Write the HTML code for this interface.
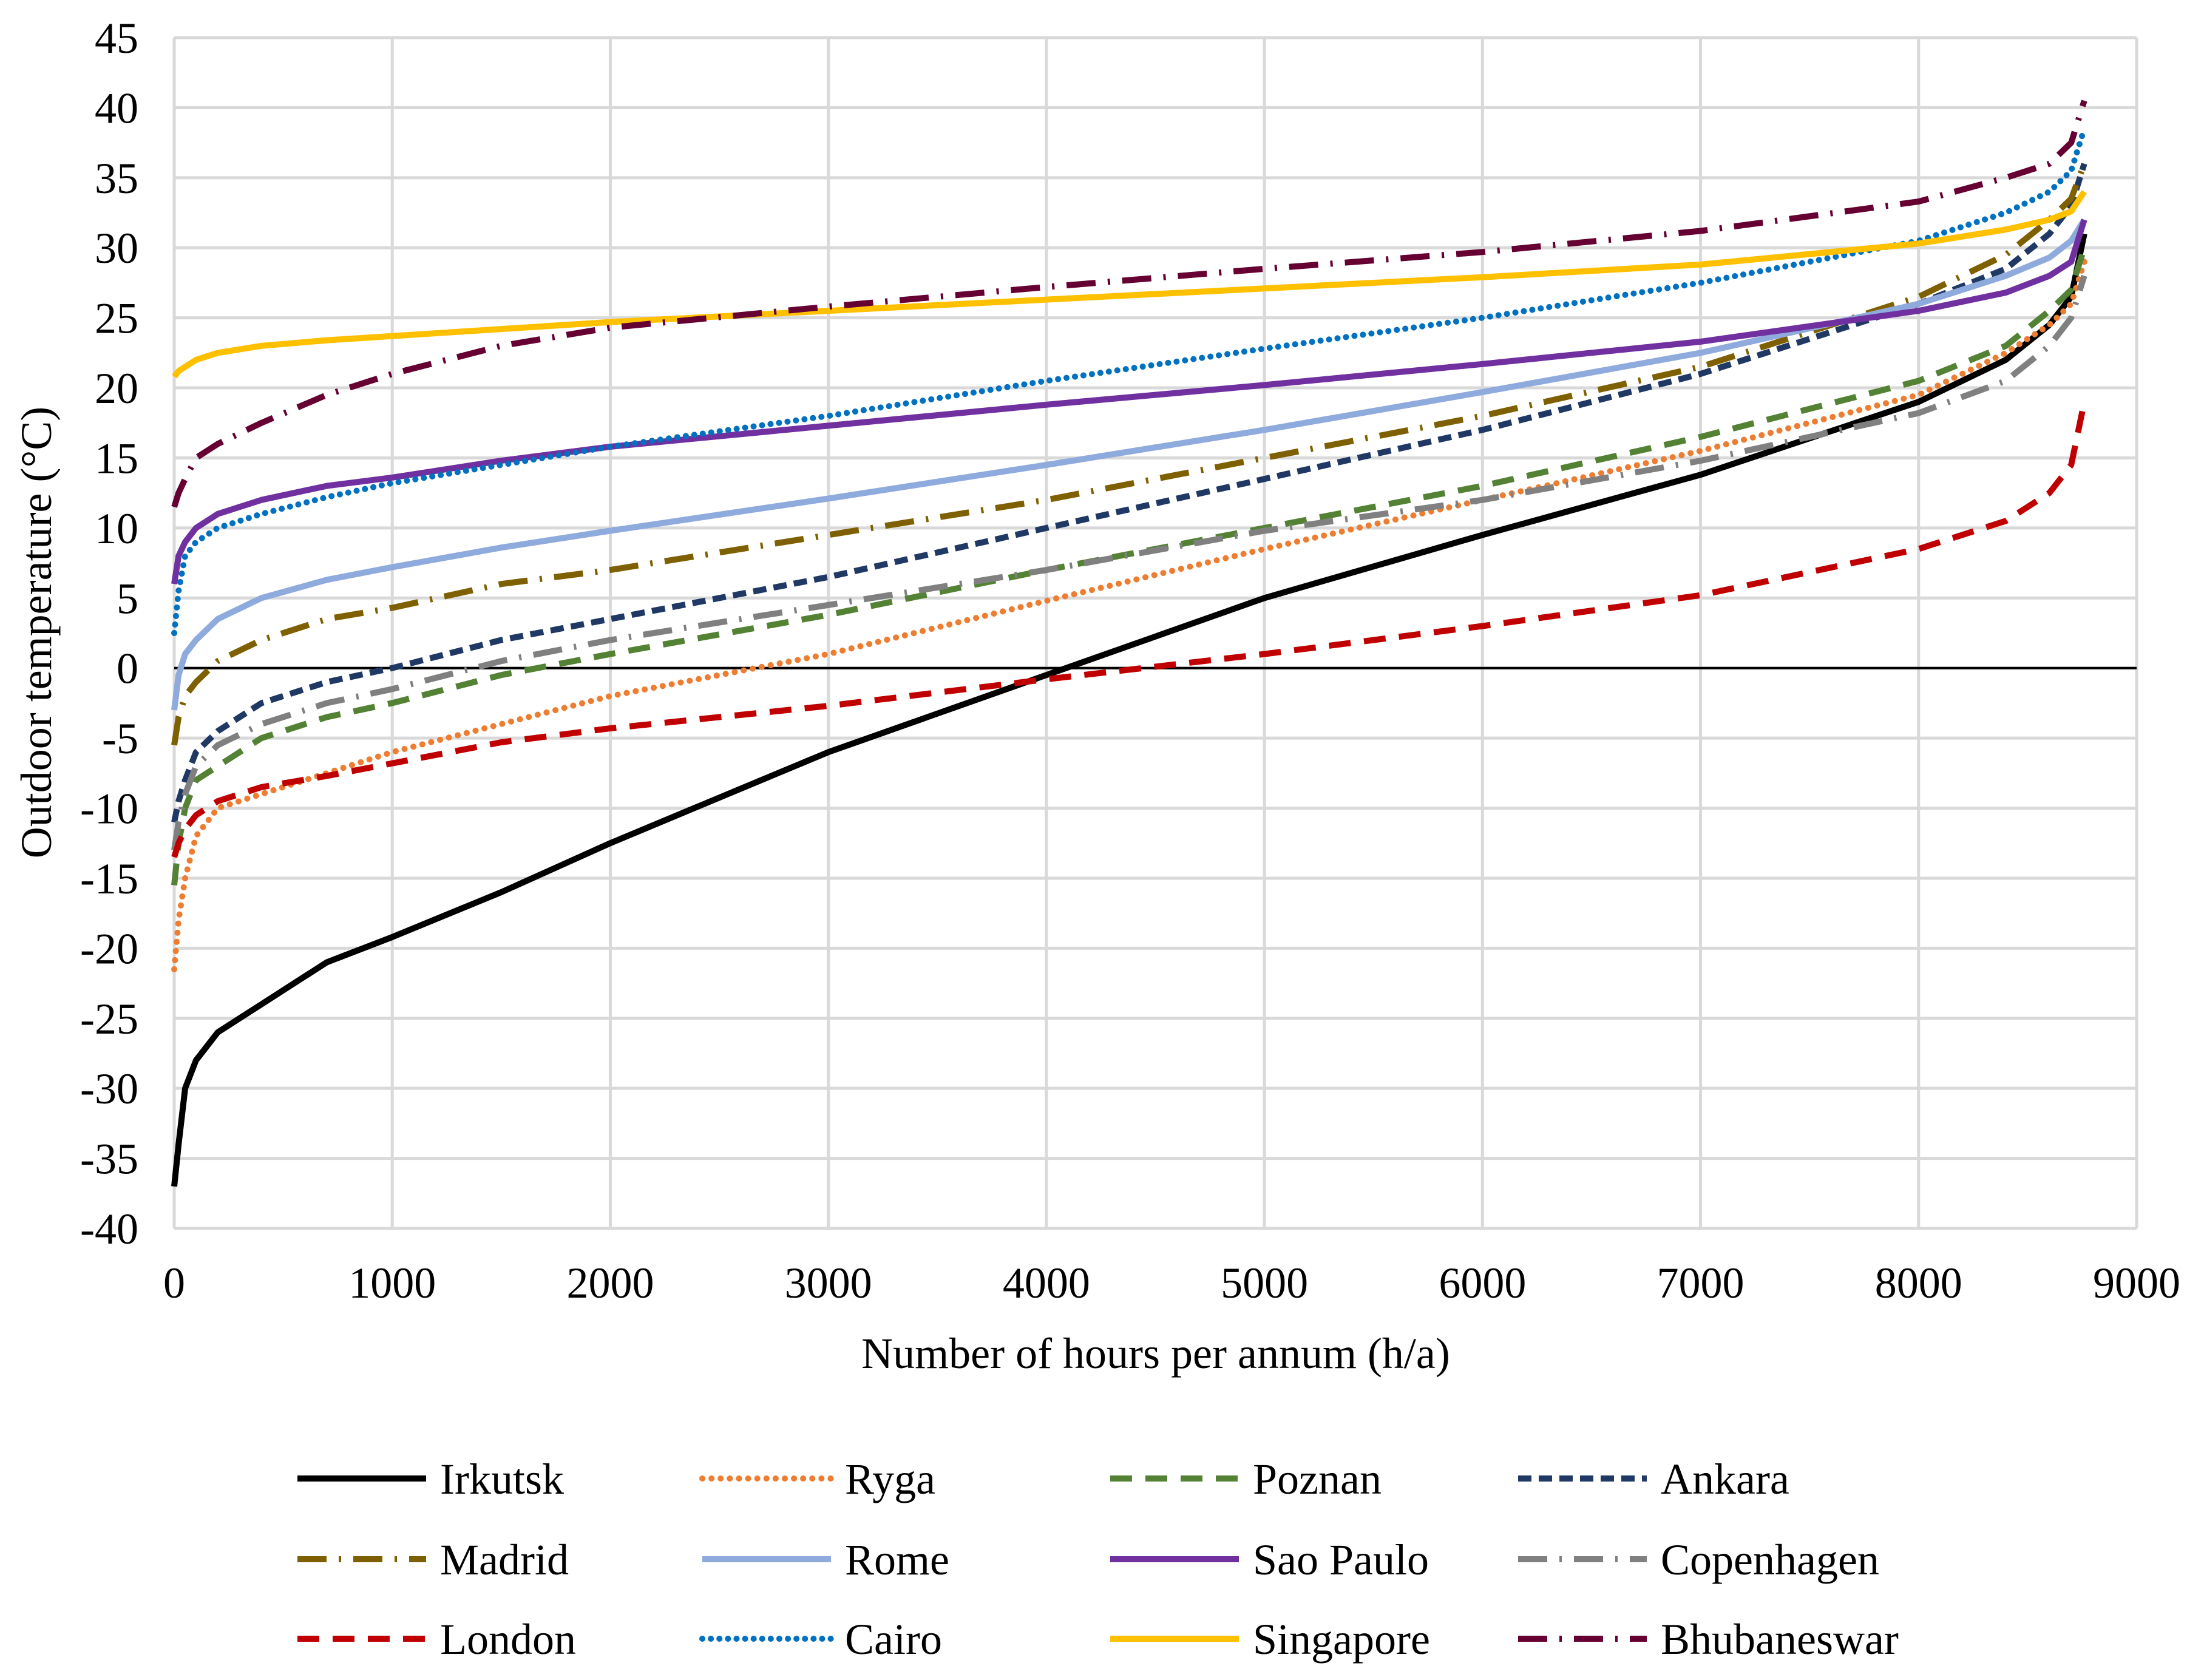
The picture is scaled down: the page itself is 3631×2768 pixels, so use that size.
<!DOCTYPE html>
<html><head><meta charset="utf-8"><style>
html,body{margin:0;padding:0;background:#fff;}
svg{display:block;}
svg text{font-family:"Liberation Serif","DejaVu Serif",serif;}
</style></head><body>
<svg id="chart" width="3631" height="2768" viewBox="0 0 3631 2768" xmlns="http://www.w3.org/2000/svg">
<rect x="0" y="0" width="3631" height="2768" fill="#fff"/>
<g id="grid"></g>
<g id="yticks"></g>
<g id="xticks"></g>
<line id="zero" stroke="#000" stroke-width="4"/>
<g id="series"></g>
<text x="1904" y="2254" font-size="72" text-anchor="middle" font-family="Liberation Serif, serif">Number of hours per annum (h/a)</text>
<text x="0" y="0" font-size="72" text-anchor="middle" font-family="Liberation Serif, serif" transform="translate(84,1042) rotate(-90)">Outdoor temperature (°C)</text>
<g id="legend"></g>
</svg>
<script>
const hours = [0,20,50,100,200,400,700,1000,1500,2000,3000,4000,5000,6000,7000,8000,8400,8600,8700,8760];
const irkutsk = [-37,-34,-30,-28,-26,-24,-21,-19.2,-16,-12.5,-6,-0.5,5,9.5,13.8,19,22,24.5,26.5,31];
const ryga = [-21.5,-18,-15,-12,-10,-9,-7.5,-6,-4,-2,1,4.8,8.5,12,15.5,19.5,22.5,24.5,26,29];
const poznan = [-15.5,-12.5,-10,-8,-7,-5,-3.5,-2.5,-0.5,1,3.8,7,10,13,16.5,20.5,23,25.5,27,30];
const ankara = [-11,-9.5,-8,-6,-4.5,-2.5,-1,0,2,3.5,6.5,10,13.5,17,21,26,28.5,31,33,36];
const madrid = [-5.5,-3.5,-2,-1,0.5,2,3.5,4.3,6,7,9.5,12,15,18,21.5,26.5,29.5,32,33.5,36];
const rome = [-3,-0.5,1,2,3.5,5,6.3,7.2,8.6,9.8,12.1,14.5,17,19.7,22.5,26,28,29.3,30.5,32];
const saoPaulo = [6,8,9,10,11,12,13,13.6,14.8,15.8,17.3,18.8,20.2,21.7,23.3,25.5,26.8,28,29,32];
const copenhagen = [-13,-11,-9,-7,-5.5,-4,-2.5,-1.5,0.5,2,4.5,7,9.8,12,14.8,18.2,20.5,23,25,28];
const london = [-13.5,-12.5,-11.5,-10.5,-9.5,-8.5,-7.7,-6.8,-5.3,-4.3,-2.7,-0.8,1,3,5.2,8.5,10.5,12.5,14.5,19];
const cairo = [2.5,5.5,8,9,10,11,12.2,13.2,14.5,15.8,18,20.5,22.8,25,27.5,30.5,32.5,34,35.5,38.5];
const singapore = [20.8,21.2,21.5,22,22.5,23,23.4,23.7,24.2,24.7,25.5,26.3,27.1,27.9,28.8,30.3,31.3,32,32.6,34];
const bhubaneswar = [11.5,12.5,13.5,15,16,17.5,19.5,21,23,24.3,25.8,27.2,28.5,29.7,31.2,33.3,35,36,37.5,40.5];
const names = ["Irkutsk","Ryga","Poznan","Ankara","Madrid","Rome","Sao Paulo","Copenhagen","London","Cairo","Singapore","Bhubaneswar"];
const xTicks = [0,1000,2000,3000,4000,5000,6000,7000,8000,9000];
const yTicks = [-40,-35,-30,-25,-20,-15,-10,-5,0,5,10,15,20,25,30,35,40,45];

const allSeries = [irkutsk,ryga,poznan,ankara,madrid,rome,saoPaulo,copenhagen,london,cairo,singapore,bhubaneswar];
const styles = [
 {c:"#000000",d:"",cap:"butt"},
 {c:"#ED7D31",d:"0.1 15",cap:"round"},
 {c:"#548235",d:"36 22",cap:"butt"},
 {c:"#1F3864",d:"22 12",cap:"butt"},
 {c:"#7F6000",d:"48 20 4 20",cap:"butt"},
 {c:"#8FAADC",d:"",cap:"butt"},
 {c:"#7030A0",d:"",cap:"butt"},
 {c:"#808080",d:"48 20 4 20",cap:"butt"},
 {c:"#C00000",d:"36 22",cap:"butt"},
 {c:"#0070C0",d:"0.1 14",cap:"round"},
 {c:"#FFC000",d:"",cap:"butt"},
 {c:"#660033",d:"48 20 4 20",cap:"butt"}
];
const X0=287,X1=3520,Y0=2024,Y1=62;
const xs = h => X0 + (h/9000)*(X1-X0);
const ys = t => Y0 - ((t+40)/85)*(Y0-Y1);
const NS="http://www.w3.org/2000/svg";
function mk(tag,parent){const e=document.createElementNS(NS,tag);parent.appendChild(e);return e;}
const grid=document.getElementById('grid'), yt=document.getElementById('yticks'), xt=document.getElementById('xticks');
yTicks.forEach(v=>{
 const l=mk('line',grid);
 
 
 l.setAttribute('x1',X0);l.setAttribute('x2',X1);l.setAttribute('y1',ys(v));l.setAttribute('y2',ys(v));
 l.setAttribute('stroke','#d9d9d9');l.setAttribute('stroke-width','5');
 const t=mk('text',yt);
 
 
 t.setAttribute('x',228);t.setAttribute('y',ys(v)+25);t.setAttribute('font-size','72');t.setAttribute('text-anchor','end');
 t.textContent=v;
});
xTicks.forEach(v=>{
 const l=mk('line',grid);
 
 
 l.setAttribute('x1',xs(v));l.setAttribute('x2',xs(v));l.setAttribute('y1',Y1);l.setAttribute('y2',Y0);
 l.setAttribute('stroke','#d9d9d9');l.setAttribute('stroke-width','5');
 const t=mk('text',xt);
 
 
 t.setAttribute('x',xs(v));t.setAttribute('y',2138);t.setAttribute('font-size','72');t.setAttribute('text-anchor','middle');
 t.textContent=v;
});
const z=document.getElementById('zero');
z.setAttribute('x1',X0);z.setAttribute('x2',X1);z.setAttribute('y1',ys(0));z.setAttribute('y2',ys(0));
const sg=document.getElementById('series');
allSeries.forEach((arr,i)=>{
 const p=mk('path',sg);
 
 
 let d='';
 arr.forEach((v,k)=>{d+=(k?'L':'M')+xs(hours[k]).toFixed(1)+','+ys(v).toFixed(1);});
 p.setAttribute('d',d);
 p.setAttribute('fill','none');p.setAttribute('stroke',styles[i].c);p.setAttribute('stroke-width','10');
 p.setAttribute('stroke-linejoin','round');p.setAttribute('stroke-linecap',styles[i].cap);
 if(styles[i].d)p.setAttribute('stroke-dasharray',styles[i].d);
});
const lg=document.getElementById('legend');
const colX=[486,1153,1825,2497], rowY=[2436,2569,2700];
names.forEach((n,i)=>{
 const cx=colX[i%4], cy=rowY[Math.floor(i/4)];
 const l=mk('line',lg);
 
 
 l.setAttribute('x1',cx+4);l.setAttribute('x2',cx+216);l.setAttribute('y1',cy);l.setAttribute('y2',cy);
 l.setAttribute('stroke',styles[i].c);l.setAttribute('stroke-width','10');l.setAttribute('stroke-linecap',styles[i].cap);
 if(styles[i].d)l.setAttribute('stroke-dasharray',styles[i].d);
 const t=mk('text',lg);
 
 
 t.setAttribute('x',cx+239);t.setAttribute('y',cy+25);t.setAttribute('font-size','72');
 t.textContent=n;
});
</script>
</body></html>
